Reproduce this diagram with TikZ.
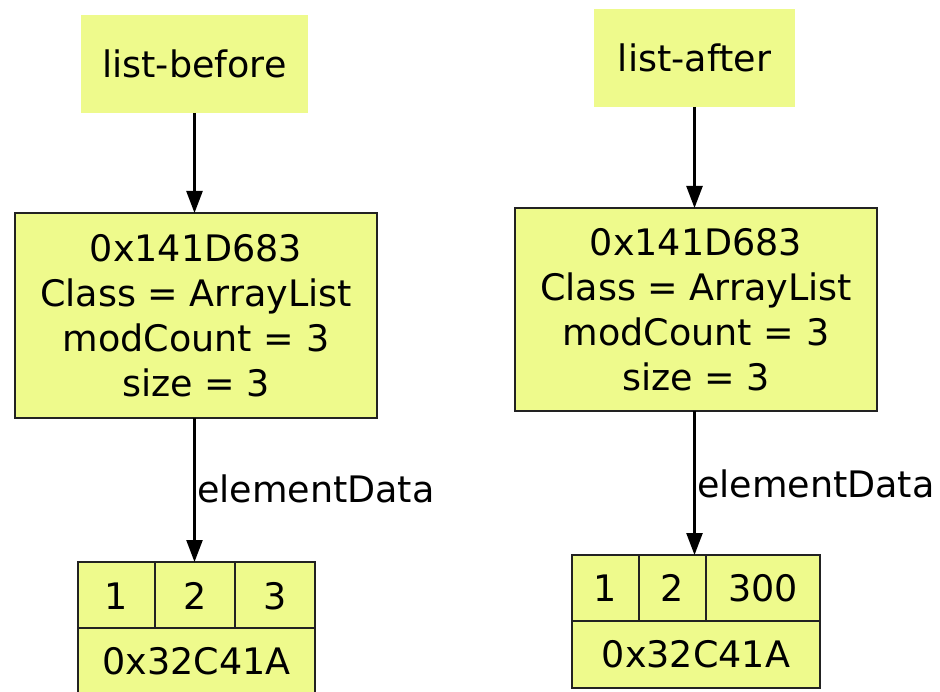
\documentclass[tikz,border=0pt]{standalone}
\usepackage{fontspec}
\setmainfont{DejaVu Sans}
\usetikzlibrary{arrows.meta}
\definecolor{boxfill}{RGB}{238,250,140}
\definecolor{boxline}{RGB}{34,34,34}
\begin{document}
\begin{tikzpicture}[x=1pt,y=-1pt,
  every node/.style={font=\fontsize{36.5}{45}\selectfont, inner sep=0pt, outer sep=0pt},
  namebox/.style={fill=boxfill, align=center},
  objbox/.style={fill=boxfill, draw=boxline, line width=2.6pt, align=center},
  cell/.style={anchor=center},
  conn/.style={line width=2.4pt, -{Triangle[length=22pt,width=16pt]}},
  divider/.style={draw=boxline, line width=2.6pt}
]
\clip (0,0) rectangle (940,692);

% ---- left ----
\node[namebox, minimum width=227, minimum height=98] (lb) at (194.5,64) {list-before};
\node[objbox, minimum width=362, minimum height=205] (lm) at (196,315.5)
  {0x141D683\\Class = ArrayList\\modCount = 3\\size = 3};
\node[objbox, minimum width=237, minimum height=133] (la) at (196.5,628.5) {};
\draw[divider] (78,628) -- (315,628);
\draw[divider] (155,562) -- (155,628);
\draw[divider] (235,562) -- (235,628);
\node[cell] (la1) at (116.5,596) {1};
\node[cell] (la2) at (195,596) {2};
\node[cell] (la3) at (275,596) {3};
\node[cell] (laaddr) at (196.5,661) {0x32C41A};
\draw[conn] (lb.south) -- (lb.south |- lm.north);
\draw[conn] (lb.south |- lm.south) -- (lb.south |- la.north);
\node[anchor=base west] (lel) at (197,502) {elementData};

% ---- right ----
\node[namebox, minimum width=201, minimum height=98] (ra) at (694.5,58) {list-after};
\node[objbox, minimum width=362, minimum height=203] (rm) at (696,309.5)
  {0x141D683\\Class = ArrayList\\modCount = 3\\size = 3};
\node[objbox, minimum width=248, minimum height=133] (rar) at (696,621.5) {};
\draw[divider] (572,621) -- (820,621);
\draw[divider] (639,555) -- (639,621);
\draw[divider] (706,555) -- (706,621);
\node[cell] (rar1) at (605.5,588) {1};
\node[cell] (rar2) at (672.5,588) {2};
\node[cell] (rar3) at (763,588) {300};
\node[cell] (raraddr) at (696,654.5) {0x32C41A};
\draw[conn] (ra.south) -- (ra.south |- rm.north);
\draw[conn] (ra.south |- rm.south) -- (ra.south |- rar.north);
\node[anchor=base west] (rel) at (697,497) {elementData};
\end{tikzpicture}
\end{document}
